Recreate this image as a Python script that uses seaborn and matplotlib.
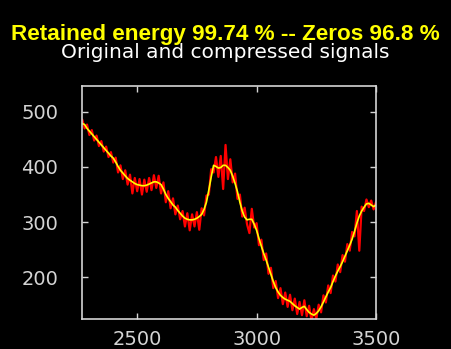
import numpy as np
import pandas as pd
import matplotlib
matplotlib.use("Agg")
import matplotlib.pyplot as plt
import seaborn as sns

# sample positions (every 10 samples)
x = np.arange(2270, 3501, 10)

# original signal (noisy, red)
original = [
    486, 470, 477, 458, 467, 448, 457, 438, 447, 428,
    437, 418, 427, 408, 417, 390, 403, 378, 394, 368,
    386, 352, 380, 356, 378, 350, 377, 355, 380, 358,
    385, 362, 384, 352, 372, 336, 356, 325, 343, 314,
    330, 305, 320, 292, 316, 285, 314, 292, 318, 286,
    325, 312, 348, 350, 396, 390, 418, 382, 420, 360,
    440, 378, 414, 372, 388, 342, 350, 310, 326, 296,
    280, 324, 290, 298, 258, 268, 231, 243, 206, 217,
    180, 193, 162, 180, 151, 172, 146, 168, 140, 161,
    133, 155, 131, 158, 129, 148, 121, 142, 124, 150,
    136, 167, 154, 185, 171, 203, 192, 223, 209, 240,
    228, 260, 248, 282, 274, 320, 248, 328, 320, 341,
    327, 339, 323, 336,
]

# compressed signal (yellow)
compressed = [
    479, 477, 470, 465, 460, 455, 450, 445, 440, 435,
    430, 425, 420, 416, 409, 401, 394, 389, 384, 379,
    376, 373, 370, 368, 367, 366, 366, 367, 369, 371,
    373, 373, 371, 368, 360, 350, 343, 337, 331, 327,
    321, 316, 311, 307, 305, 304, 304, 305, 307, 310,
    314, 323, 336, 358, 382, 403, 401, 398, 399, 403,
    403, 399, 394, 383, 370, 355, 336, 320, 309, 304,
    305, 305, 296, 285, 270, 256, 243, 231, 218, 205,
    192, 181, 173, 167, 163, 160, 158, 156, 152, 148,
    145, 142, 145, 147, 141, 136, 133, 131, 134, 139,
    146, 155, 164, 173, 181, 192, 202, 211, 219, 228,
    238, 248, 258, 269, 283, 298, 311, 320, 327, 333,
    334, 331, 328, 331,
]

title1 = "Retained energy 99.74 % -- Zeros 96.8 %"
title2 = "Original and compressed signals"
xticks = [2500, 3000, 3500]
yticks = [200, 300, 400, 500]

df = pd.DataFrame({"x": x, "original": original, "compressed": compressed})

sns.set_style("ticks")
fg = "#d4d4d4"
plt.rcParams["font.family"] = ["DejaVu Sans"]

fig = plt.figure(figsize=(4.51, 3.49), dpi=100, facecolor="black")
ax = fig.add_axes([82 / 451, 30 / 349, 294 / 451, 233 / 349])
ax.set_facecolor("black")

sns.lineplot(data=df, x="x", y="original", color="#ff0000", linewidth=1.6,
             estimator=None, sort=False, ax=ax)
sns.lineplot(data=df, x="x", y="compressed", color="#ffff00", linewidth=1.2,
             estimator=None, sort=False, ax=ax)

ax.set_xlim(2269, 3500)
ax.set_ylim(124, 547)
ax.set_xticks(xticks)
ax.set_yticks(yticks)
ax.set_xlabel("")
ax.set_ylabel("")
for s in ax.spines.values():
    s.set_visible(True)
    s.set_color(fg)
    s.set_linewidth(1.2)
ax.tick_params(direction="in", length=4, width=1, colors=fg, labelsize=14,
               top=True, right=True)
ax.tick_params(axis="x", pad=8)
ax.tick_params(axis="y", pad=17)

fig.text(0.5, 1 - 40 / 349, title1, color="#ffff00", fontsize=16.2,
         fontweight="bold", family=["Liberation Sans", "DejaVu Sans"],
         ha="center", va="baseline")
fig.text(0.5, 1 - 58 / 349, title2, color="white", fontsize=14.5,
         ha="center", va="baseline")

fig.savefig("out.png", dpi=100, facecolor="black")
